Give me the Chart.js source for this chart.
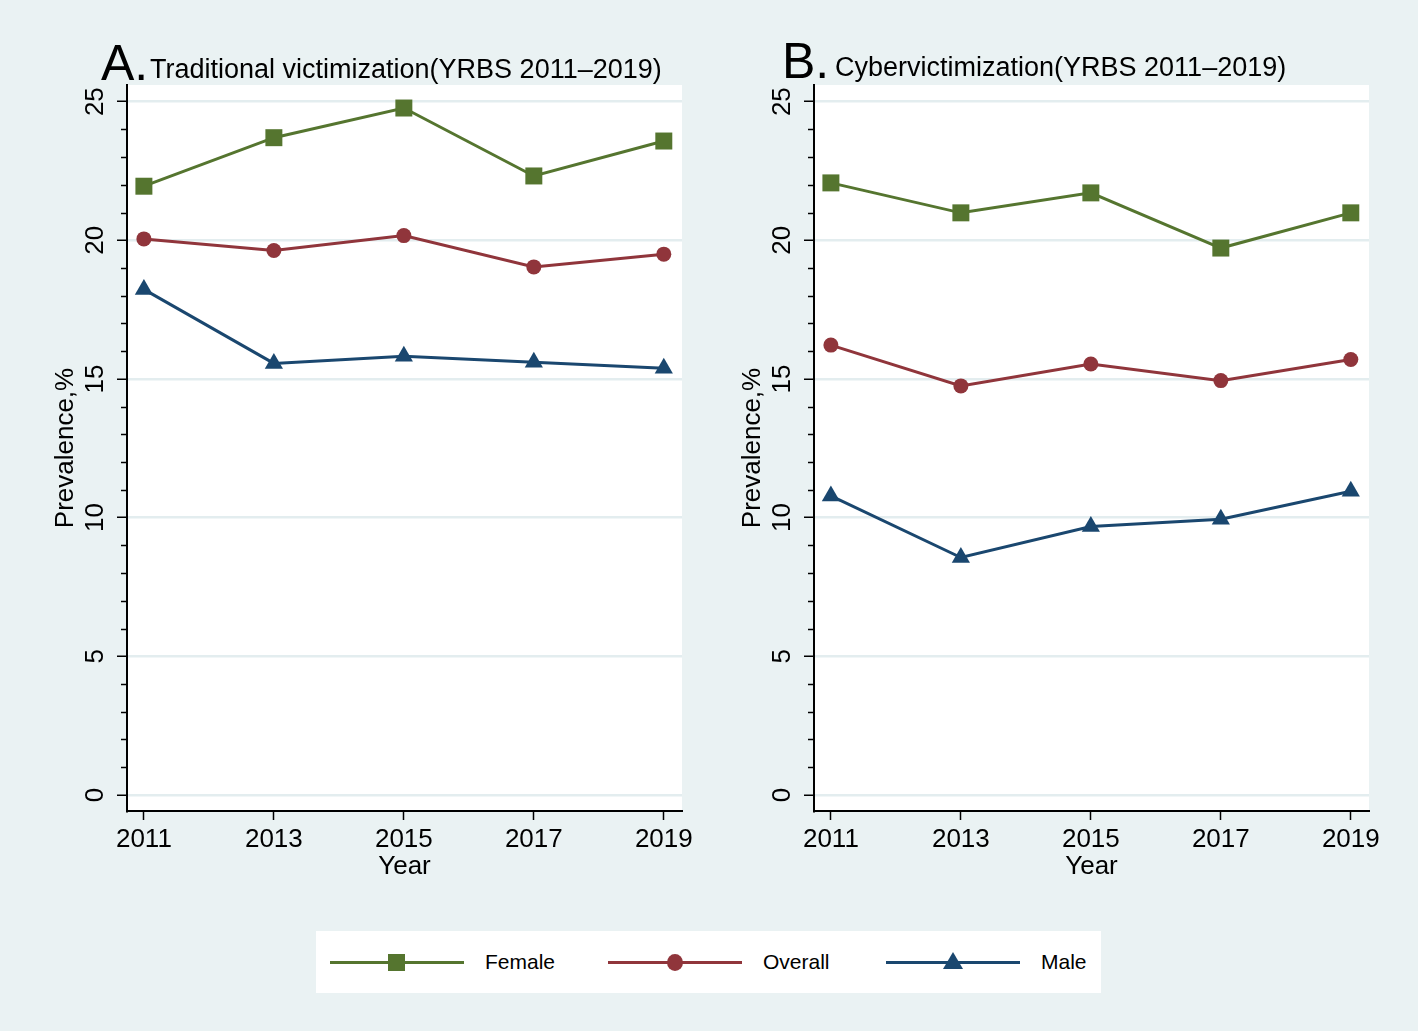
<!DOCTYPE html>
<html>
<head>
<meta charset="utf-8">
<title>Victimization trends</title>
<script src="https://cdn.jsdelivr.net/npm/chart.js@4.4.1/dist/chart.umd.min.js"></script>
<style>
  body { margin: 0; background: #eaf2f3; font-family: "Liberation Sans", Arial, sans-serif; }
  #page { position: relative; width: 1418px; height: 1031px; overflow: hidden; background: #eaf2f3; }
  .panel { position: absolute; top: 0; width: 709px; height: 900px; }
  .txt { position: absolute; white-space: nowrap; color: #000; line-height: 1; }
  .big { font-size: 50px; }
  .sub { font-size: 27px; }
  #legend { position: absolute; left: 316px; top: 931px; width: 785px; height: 62px; background: #fff; }
  .item { position: absolute; top: 0; height: 62px; }
  .item .ln { position: absolute; left: 0; top: 30px; width: 134px; height: 3px; }
  .item .mk { position: absolute; }
  .item .lab { position: absolute; left: 155px; top: 20px; font-size: 21px; line-height: 1; color: #000; }
</style>
</head>
<body>
<div id="page">
  <div class="panel" style="left:0px"><canvas id="chartA" width="709" height="900"></canvas></div>
  <div class="panel" style="left:687px"><canvas id="chartB" width="709" height="900"></canvas></div>

  <div class="txt big" style="left:101px; top:38px;">A.</div>
  <div class="txt sub" style="left:150px; top:56px;">Traditional victimization(YRBS 2011–2019)</div>
  <div class="txt big" style="left:782px; top:36px;">B.</div>
  <div class="txt sub" style="left:835px; top:54px;">Cybervictimization(YRBS 2011–2019)</div>

  <div id="legend"></div>
</div>
<script>
const years = [2011, 2013, 2015, 2017, 2019];
const yTicks = [0, 5, 10, 15, 20, 25];

const seriesNames = ["Female", "Overall", "Male"];
const seriesColors = ["#55752f", "#90353b", "#1a476f"];
const seriesMarkers = ["rect", "circle", "triangle"];

// A. traditional victimization
const tradFemale = [21.95, 23.7, 24.77, 22.32, 23.58];
const tradOverall = [20.05, 19.63, 20.17, 19.04, 19.5];
const tradMale = [18.23, 15.56, 15.82, 15.6, 15.39];

// B. cybervictimization
const cyberFemale = [22.07, 20.99, 21.71, 19.72, 20.99];
const cyberOverall = [16.22, 14.75, 15.54, 14.94, 15.7];
const cyberMale = [10.78, 8.56, 9.68, 9.94, 10.95];

const FONT = '"Liberation Sans", Arial, sans-serif';
const markerRadius = { rect: 12, circle: 7.5, triangle: 10.5 };

const panelDecor = {
  id: "panelDecor",
  beforeDraw(chart) {
    const { ctx, chartArea: a } = chart;
    ctx.save();
    ctx.fillStyle = "#fff";
    ctx.fillRect(a.left, a.top, a.right - a.left, a.bottom - a.top);
    ctx.restore();
  },
  afterDraw(chart) {
    const { ctx, chartArea: a } = chart;
    const ys = chart.scales.y;
    ctx.save();
    // minor ticks
    ctx.strokeStyle = "#000";
    ctx.lineWidth = 1.5;
    for (let v = 1; v < 25; v++) {
      if (v % 5 === 0) continue;
      const py = Math.round(ys.getPixelForValue(v)) + 0.5;
      ctx.beginPath();
      ctx.moveTo(a.left - 6, py);
      ctx.lineTo(a.left, py);
      ctx.stroke();
    }
    // rotated y tick labels
    ctx.fillStyle = "#000";
    ctx.font = "26px " + FONT;
    ctx.textAlign = "center";
    ctx.textBaseline = "middle";
    yTicks.forEach(v => {
      ctx.save();
      ctx.translate(a.left - 31, ys.getPixelForValue(v));
      ctx.rotate(-Math.PI / 2);
      ctx.fillText(String(v), 0, 0);
      ctx.restore();
    });
    ctx.restore();
  }
};

function makeChart(id, female, overall, male) {
  const sets = [female, overall, male];
  return new Chart(document.getElementById(id), {
    type: "line",
    data: {
      datasets: sets.map((vals, i) => ({
        label: seriesNames[i],
        data: years.map((yr, j) => ({ x: yr, y: vals[j] })),
        borderColor: seriesColors[i],
        backgroundColor: seriesColors[i],
        borderWidth: 3,
        pointStyle: seriesMarkers[i],
        pointRadius: markerRadius[seriesMarkers[i]],
        pointBorderWidth: 0,
        tension: 0
      }))
    },
    options: {
      responsive: false,
      animation: false,
      devicePixelRatio: 1,
      layout: { padding: { top: 85, right: 27, left: 0, bottom: 0 } },
      plugins: { legend: { display: false }, title: { display: false }, tooltip: { enabled: false } },
      scales: {
        x: {
          type: "linear",
          min: 2010.74,
          max: 2019.28,
          afterBuildTicks: s => { s.ticks = years.map(v => ({ value: v })); },
          afterFit: s => { s.height = 89; },
          ticks: { color: "#000", font: { size: 26, family: FONT }, padding: 4, maxRotation: 0, autoSkip: false, callback: v => String(v) },
          grid: { drawOnChartArea: false, drawTicks: true, tickLength: 9, tickColor: "#000", tickWidth: 1.5 },
          border: { display: true, color: "#000", width: 2 },
          title: { display: true, text: "Year", color: "#000", font: { size: 26, family: FONT }, padding: { top: 0, bottom: 18 } }
        },
        y: {
          type: "linear",
          min: -0.58,
          max: 25.6,
          afterBuildTicks: s => { s.ticks = yTicks.map(v => ({ value: v })); },
          afterFit: s => { s.width = 127; },
          ticks: { display: false },
          grid: { color: "#e3edef", lineWidth: 2.5, drawTicks: true, tickLength: 10, tickColor: "#000", tickWidth: 1.5 },
          border: { display: true, color: "#000", width: 2 },
          title: { display: true, text: "Prevalence,%", color: "#000", font: { size: 26, family: FONT }, padding: { top: 50, bottom: 0 } }
        }
      }
    },
    plugins: [panelDecor]
  });
}

makeChart("chartA", tradFemale, tradOverall, tradMale);
makeChart("chartB", cyberFemale, cyberOverall, cyberMale);

// legend: line with marker in the middle, then label
const legend = document.getElementById("legend");
seriesNames.forEach((name, i) => {
  const item = document.createElement("div");
  item.className = "item";
  item.style.left = (14 + i * 278) + "px";
  const ln = document.createElement("div");
  ln.className = "ln";
  ln.style.background = seriesColors[i];
  item.appendChild(ln);
  const mk = document.createElement("div");
  mk.className = "mk";
  if (seriesMarkers[i] === "rect") {
    Object.assign(mk.style, { left: "58px", top: "23px", width: "17px", height: "17px", background: seriesColors[i] });
  } else if (seriesMarkers[i] === "circle") {
    Object.assign(mk.style, { left: "59px", top: "23px", width: "16px", height: "17px", borderRadius: "50%", background: seriesColors[i] });
  } else {
    Object.assign(mk.style, { left: "57px", top: "21px", width: "0", height: "0",
      borderLeft: "10px solid transparent", borderRight: "10px solid transparent", borderBottom: "17px solid " + seriesColors[i] });
  }
  item.appendChild(mk);
  const lab = document.createElement("div");
  lab.className = "lab";
  lab.textContent = name;
  item.appendChild(lab);
  legend.appendChild(item);
});
</script>
</body>
</html>
